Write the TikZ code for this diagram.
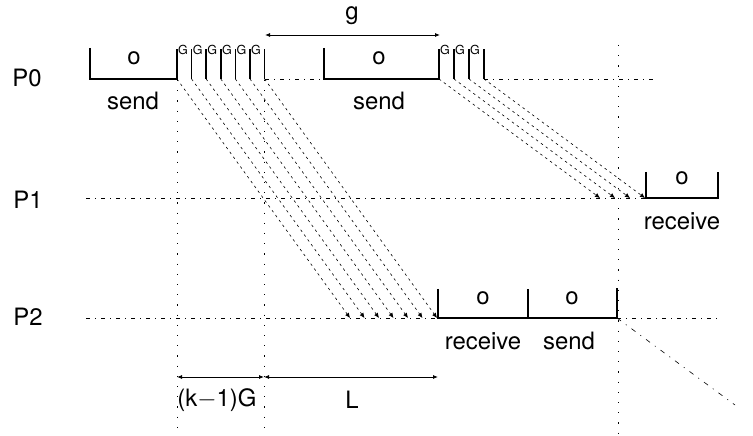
\documentclass[tikz,border=0pt]{standalone}
\usepackage{fontspec}
\setmainfont{TeX Gyre Heros}
\usetikzlibrary{arrows.meta}
\begin{document}
\begin{tikzpicture}[x=1bp,y=-1bp,
  boxline/.style={line width=1.8bp, line join=miter},
  tickline/.style={line width=1.5bp},
  timeline/.style={line width=0.6bp, dash pattern=on 4bp off 5bp on 1bp off 5bp},
  guide/.style={line width=0.6bp, dash pattern=on 1.2bp off 9bp},
  msg/.style={line width=0.6bp, dash pattern=on 2.5bp off 3.5bp, -{Latex[length=5bp,width=4.5bp]}},
  span/.style={line width=0.8bp, {Latex[length=5bp,width=4bp]}-{Latex[length=5bp,width=4bp]}},
  lbl/.style={font=\fontsize{24}{27}\selectfont, inner sep=0pt},
  gl/.style={font=\fontsize{12.5}{13}\selectfont, inner sep=0pt, anchor=west}]
\useasboundingbox (0,0) rectangle (753,436);

% process labels
\node[lbl] (p0) at (27,78) {P0};
\node[lbl] (p1) at (28,200) {P1};
\node[lbl] (p2) at (28,317) {P2};

% vertical guides
\coordinate (v1t) at (177,80);  \coordinate (v1b) at (177,434);
\coordinate (v2t) at (264,80);  \coordinate (v2b) at (264,434);
\coordinate (v3t) at (618,45);  \coordinate (v3b) at (618,434);
\draw[guide] (v1t) -- (v1b);
\draw[guide] (v2t) -- (v2b);
\draw[guide] (v3t) -- (v3b);

% time lines
\coordinate (t0a) at (265,79); \coordinate (t0b) at (324,79);
\coordinate (t0c) at (484,79); \coordinate (t0d) at (655,79);
\coordinate (t1a) at (86,198); \coordinate (t1b) at (645,198);
\coordinate (t2a) at (86,318); \coordinate (t2b) at (437,318);
\coordinate (t2c) at (617,318); \coordinate (t2d) at (718,318);
\coordinate (t2e) at (735,405);
\draw[timeline] (t0a) -- (t0b);
\draw[timeline] (t0c) -- (t0d);
\draw[timeline] (t1a) -- (t1b);
\draw[timeline] (t2a) -- (t2b);
\draw[timeline] (t2c) -- (t2d);
\draw[line width=0.6bp, dash pattern=on 5bp off 6bp on 1bp off 6bp] (t2c) -- (t2e);

% P0: first send overhead
\coordinate (s1a) at (90,48); \coordinate (s1b) at (90,79);
\coordinate (s1c) at (177,79); \coordinate (s1d) at (177,49);
\draw[boxline] (s1a) -- (s1b) -- (s1c) -- (s1d);
\node[lbl] (o1) at (134,58) {o};
\node[lbl] (send1) at (133,101) {send};

% P0: gaps G after first send
\foreach \i in {0,...,6} {
  \coordinate (a\i) at ({177+14.6*\i},79);
  \coordinate (at\i) at ({177+14.6*\i},49);
  \draw[tickline] (a\i) -- (at\i);
}
\foreach \i in {0,...,5} {
  \node[gl] (ga\i) at ({178+14.6*\i},50) {G};
}

% P0: second send overhead
\coordinate (s2a) at (324,48); \coordinate (s2b) at (324,79);
\coordinate (s2c) at (439,79); \coordinate (s2d) at (439,49);
\draw[boxline] (s2a) -- (s2b) -- (s2c) -- (s2d);
\node[lbl] (o2) at (379,58) {o};
\node[lbl] (send2) at (379,101) {send};

% P0: gaps G after second send
\foreach \i in {0,...,3} {
  \coordinate (b\i) at ({439+15*\i},79);
  \coordinate (bt\i) at ({439+15*\i},49);
  \draw[tickline] (b\i) -- (bt\i);
}
\foreach \i in {0,...,2} {
  \node[gl] (gb\i) at ({440+15*\i},50) {G};
}

% gap g between sends
\coordinate (gl) at (265,35); \coordinate (gr) at (440,35);
\draw[span] (gl) -- (gr);
\node[lbl] (glab) at (352,16) {g};

% P1: receive overhead
\coordinate (r1a) at (646,172); \coordinate (r1b) at (646,198);
\coordinate (r1c) at (718,198); \coordinate (r1d) at (718,172);
\draw[boxline] (r1a) -- (r1b) -- (r1c) -- (r1d);
\node[lbl] (o3) at (682,178) {o};
\node[lbl] (recv1) at (682,221) {receive};

% P2: receive and send overhead
\coordinate (r2a) at (438,289); \coordinate (r2b) at (438,318);
\coordinate (r2c) at (617,318); \coordinate (r2d) at (617,288);
\coordinate (r2m) at (528,318); \coordinate (r2n) at (528,289);
\draw[boxline] (r2a) -- (r2b) -- (r2c) -- (r2d);
\draw[boxline] (r2m) -- (r2n);
\node[lbl] (o4) at (483,298) {o};
\node[lbl] (o5) at (572,298) {o};
\node[lbl] (recv2) at (483,341) {receive};
\node[lbl] (send3) at (569,341) {send};

% messages P0 -> P2
\foreach \i in {0,...,6} {
  \coordinate (e\i) at ({350+14.5*\i},318);
  \draw[msg] (a\i) -- (e\i);
}
% messages P0 -> P1
\foreach \i in {0,...,3} {
  \coordinate (f\i) at ({600+15*\i},198);
  \draw[msg] (b\i) -- (f\i);
}

% spans below
\coordinate (k1) at (177,377); \coordinate (k2) at (264,377);
\coordinate (k3) at (438,377);
\draw[span] (k1) -- (k2);
\draw[span] (k2) -- (k3);
\node[lbl] (klab) at (217,400) {(k$-$1)G};
\node[lbl] (llab) at (352,400) {L};
\end{tikzpicture}
\end{document}
